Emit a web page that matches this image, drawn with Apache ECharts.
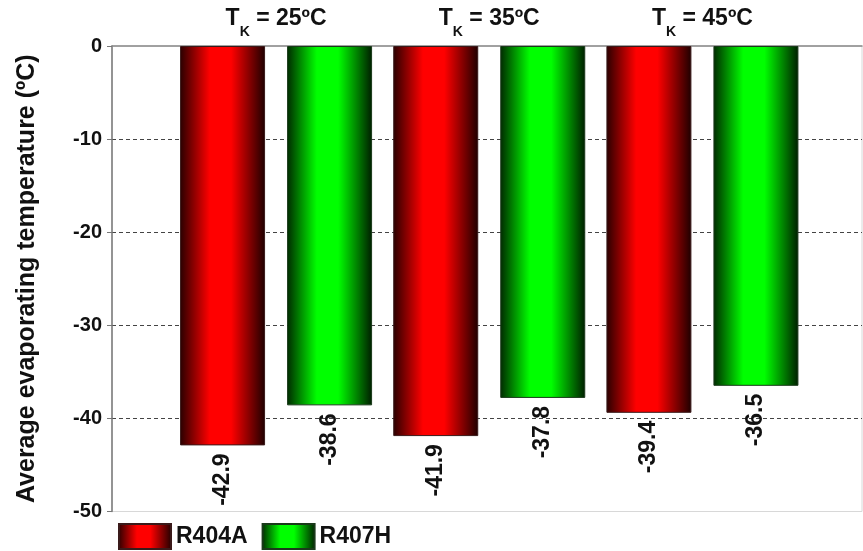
<!DOCTYPE html>
<html>
<head>
<meta charset="utf-8">
<script src="https://cdn.jsdelivr.net/npm/echarts@6/dist/echarts.min.js"></script>
<style>html,body{margin:0;padding:0;background:#fff;}#c{width:863px;height:551px;}</style>
</head>
<body>
<div id="c"></div>
<script>
const conditions = ['25', '35', '45'];
const seriesNames = ['R404A', 'R407H'];
const r404a = [-42.9, -41.9, -39.4];
const r407h = [-38.6, -37.8, -36.5];
const yMin = -50, yMax = 0, yStep = 10;
const yTitle = 'Average evaporating temperature (ºC)';

const FONT = 'Arial, "Liberation Sans", sans-serif';
const redGrad = new echarts.graphic.LinearGradient(0, 0, 1, 0, [
  {offset: 0, color: '#2a0000'}, {offset: 0.35, color: '#ff0000'},
  {offset: 0.6, color: '#ff0000'}, {offset: 1, color: '#1e0000'}
]);
const greenGrad = new echarts.graphic.LinearGradient(0, 0, 1, 0, [
  {offset: 0, color: '#002a00'}, {offset: 0.35, color: '#00ff00'},
  {offset: 0.6, color: '#00ff00'}, {offset: 1, color: '#001e00'}
]);

const chart = echarts.init(document.getElementById('c'));
const labelCfg = {
  show: true, position: 'outside', rotate: 90, align: 'right', verticalAlign: 'middle',
  distance: 8, fontFamily: FONT, fontWeight: 'bold', fontSize: 23, color: '#111',
  formatter: p => p.value.toFixed(1)
};
chart.setOption({
  animation: false,
  legend: {
    left: 113, top: 518, itemWidth: 52, itemHeight: 25, itemGap: 14,
    icon: 'rect',
    textStyle: {fontFamily: FONT, fontWeight: 'bold', fontSize: 23, color: '#111'},
    data: seriesNames
  },
  grid: [
    {left: 112, right: 1, top: 46, bottom: 39.5, show: true, borderColor: '#d8d8d8', borderWidth: 1},
    {left: 169.5, right: 54, top: 46, bottom: 39.5}
  ],
  xAxis: [
    {gridIndex: 0, type: 'category', data: [''], position: 'top',
     axisLine: {show: true, onZero: false, lineStyle: {color: '#888', width: 1.5}},
     axisTick: {show: false}, axisLabel: {show: false}},
    {gridIndex: 1, type: 'category', data: conditions, position: 'top',
     axisLine: {show: false}, axisTick: {show: false},
     axisLabel: {
       margin: 7, fontFamily: FONT,
       formatter: v => '{t|T}{s|K}{t| = ' + v + 'ºC}',
       rich: {
         t: {fontFamily: FONT, fontWeight: 'bold', fontSize: 23, color: '#111', lineHeight: 23, verticalAlign: 'middle'},
         s: {fontFamily: FONT, fontWeight: 'bold', fontSize: 14, color: '#111', lineHeight: 40, verticalAlign: 'bottom'}
       }
     }}
  ],
  yAxis: [
    {gridIndex: 0, type: 'value', min: yMin, max: yMax, interval: yStep,
     name: yTitle, nameLocation: 'middle', nameGap: 72,
     nameTextStyle: {fontFamily: FONT, fontWeight: 'bold', fontSize: 25, color: '#111'},
     axisLine: {show: true, lineStyle: {color: '#777', width: 1.5}},
     axisTick: {show: true, length: 5, lineStyle: {color: '#777'}},
     axisLabel: {margin: 10, fontFamily: FONT, fontWeight: 'bold', fontSize: 20, color: '#111'},
     splitLine: {show: true, showMinLine: false, showMaxLine: false,
                 lineStyle: {color: '#444', type: [4, 3], width: 1}}},
    {gridIndex: 1, type: 'value', min: yMin, max: yMax, interval: yStep, show: false,
     splitLine: {show: false}}
  ],
  series: [
    {name: seriesNames[0], type: 'bar', xAxisIndex: 1, yAxisIndex: 1, data: r404a,
     barWidth: 85, barGap: '25.9%',
     itemStyle: {color: redGrad, borderColor: '#3a1a1a', borderWidth: 1},
     label: labelCfg},
    {name: seriesNames[1], type: 'bar', xAxisIndex: 1, yAxisIndex: 1, data: r407h,
     barWidth: 85, barGap: '25.9%',
     itemStyle: {color: greenGrad, borderColor: '#1a3a1a', borderWidth: 1},
     label: labelCfg}
  ]
});
</script>
</body>
</html>
